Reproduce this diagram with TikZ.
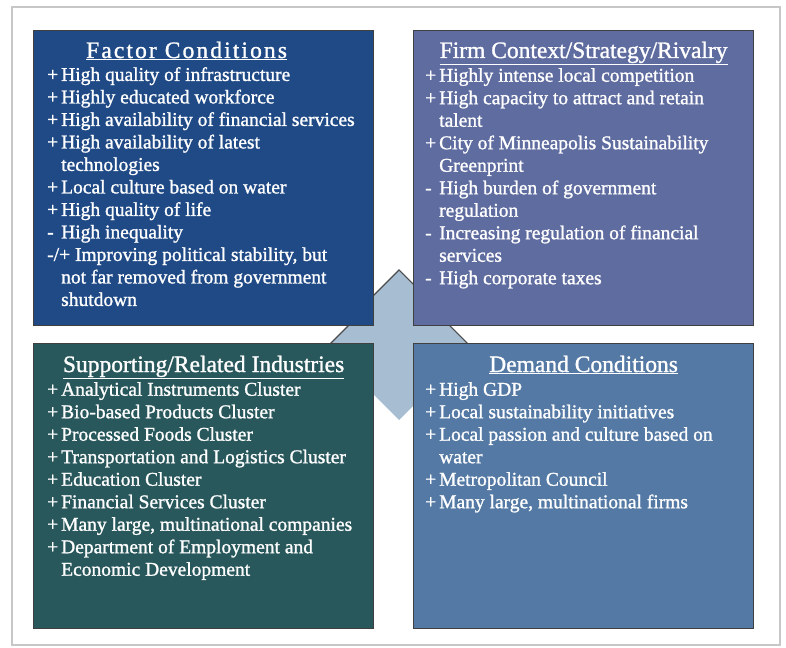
\documentclass[tikz,border=0pt]{standalone}
\usepackage{fontspec}
\setmainfont{Liberation Serif}
\newfontfamily\boxfont[FakeBold=1.2]{Liberation Serif}
\usetikzlibrary{positioning,calc}
\definecolor{factorblue}{HTML}{1F4A86}
\definecolor{firmslate}{HTML}{5F6CA0}
\definecolor{supportteal}{HTML}{29585C}
\definecolor{demandblue}{HTML}{5479A4}
\definecolor{crossblue}{HTML}{A7BDD1}
\tikzset{
    quadrant/.style={draw=black!75, line width=1.2pt, minimum width=340pt, anchor=north west, inner sep=0pt},
    heading/.style={text=white, font=\boxfont\fontsize{23.5}{26}\selectfont, anchor=base},
    items/.style={text=white, font=\boxfont\fontsize{19.5}{22.5}\selectfont, align=left, anchor=north west, inner sep=0pt},
    crossarm/.style={fill=crossblue}
}
\newcommand{\mk}[1]{\makebox[14pt][l]{#1}}

\begin{document}
\begin{tikzpicture}[x=1pt, y=-1pt]
\useasboundingbox (0,0) rectangle (786,647);
\draw[black!22, line width=1.2pt] (12,7) rectangle (780,645);

\fill[black!70, shift={(0,-1.8)}] (399,271) -- (425,297) -- (425,319) -- (442,319) -- (468,345) -- (442,371) -- (425,371) -- (425,394) -- (399,420) -- (373,394) -- (373,371) -- (356,371) -- (330,345) -- (356,319) -- (373,319) -- (373,297) -- cycle;
\fill[crossarm] (399,271) -- (425,297) -- (425,319) -- (442,319) -- (468,345) -- (442,371) -- (425,371) -- (425,394) -- (399,420) -- (373,394) -- (373,371) -- (356,371) -- (330,345) -- (356,319) -- (373,319) -- (373,297) -- cycle;

\node[quadrant, fill=factorblue, minimum height=295pt] (factor) at (33,30) {};
\node[quadrant, fill=firmslate, minimum height=295pt] (firm) at (413,30) {};
\node[quadrant, fill=supportteal, minimum height=285pt] (support) at (33,343) {};
\node[quadrant, fill=demandblue, minimum height=285pt] (demand) at (413,343) {};

\node[heading] (factorhead) at ([xshift=-17pt,yshift=-28pt]factor.north) {\addfontfeature{LetterSpace=9}\underline{Factor Conditions}};
\node[items] (factorlist) at ([xshift=14pt,yshift=-37pt]factor.north west) {
\mk{+}High quality of infrastructure\\
\mk{+}Highly educated workforce\\
\mk{+}High availability of financial services\\
\mk{+}High availability of latest\\
\mk{}technologies\\
\mk{+}Local culture based on water\\
\mk{+}High quality of life\\
\mk{-}High inequality\\
-/+ Improving political stability, but\\
\mk{}not far removed from government\\
\mk{}shutdown};

\node[heading] (firmhead) at ([yshift=-28pt]firm.north) {\underline{Firm Context/Strategy/Rivalry}};
\node[items] (firmlist) at ([xshift=12pt,yshift=-38pt]firm.north west) {
\mk{+}Highly intense local competition\\
\mk{+}High capacity to attract and retain\\
\mk{}talent\\
\mk{+}City of Minneapolis Sustainability\\
\mk{}Greenprint\\
\mk{-}High burden of government\\
\mk{}regulation\\
\mk{-}Increasing regulation of financial\\
\mk{}services\\
\mk{-}High corporate taxes};

\node[heading] (supporthead) at ([yshift=-29pt]support.north) {\underline{Supporting/Related Industries}};
\node[items] (supportlist) at ([xshift=14pt,yshift=-39pt]support.north west) {
\mk{+}Analytical Instruments Cluster\\
\mk{+}Bio-based Products Cluster\\
\mk{+}Processed Foods Cluster\\
\mk{+}Transportation and Logistics Cluster\\
\mk{+}Education Cluster\\
\mk{+}Financial Services Cluster\\
\mk{+}Many large, multinational companies\\
\mk{+}Department of Employment and\\
\mk{}Economic Development};

\node[heading] (demandhead) at ([yshift=-29pt]demand.north) {\underline{Demand Conditions}};
\node[items] (demandlist) at ([xshift=12pt,yshift=-39pt]demand.north west) {
\mk{+}High GDP\\
\mk{+}Local sustainability initiatives\\
\mk{+}Local passion and culture based on\\
\mk{}water\\
\mk{+}Metropolitan Council\\
\mk{+}Many large, multinational firms};
\end{tikzpicture}
\end{document}
